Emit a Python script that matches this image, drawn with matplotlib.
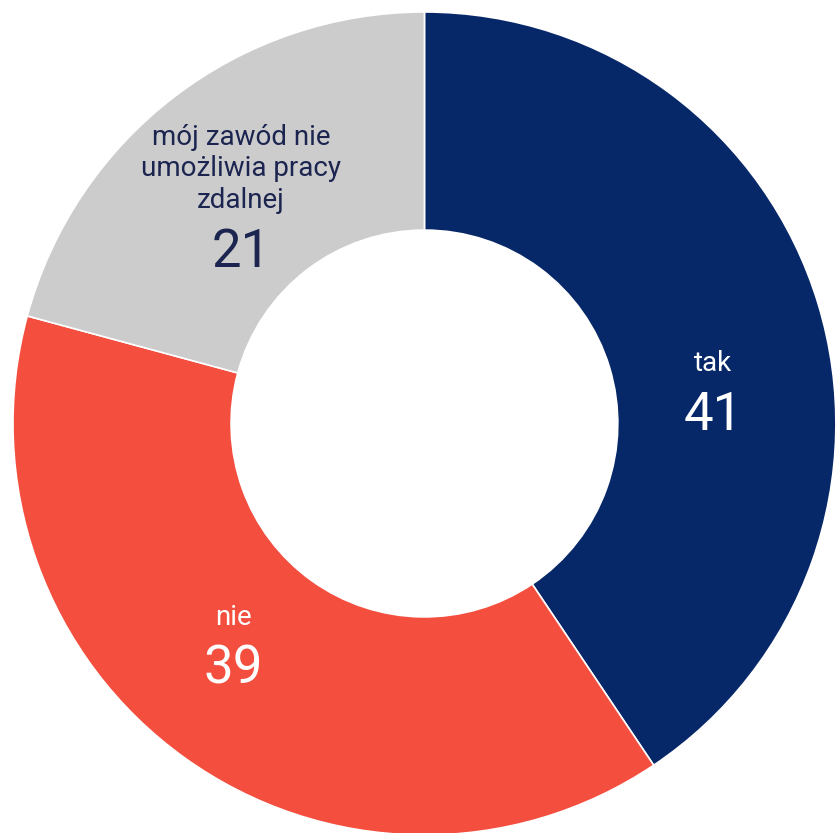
import numpy as np
import matplotlib
matplotlib.use('Agg')
import matplotlib.pyplot as plt

plt.rcParams['font.family'] = ['Roboto', 'DejaVu Sans']

# Data
categories = ['tak', 'nie', 'mój zawód nie\numożliwia pracy\nzdalnej']
values = [41, 39, 21]
colors = ['#072868', '#F44E3F', '#CCCCCC']
text_colors = ['white', 'white', '#1B2550']

# label anchors (baseline of the number), in data coords of the unit circle
label_pos = [(0.701, -0.016), (-0.465, -0.633), (-0.446, 0.380)]

fig = plt.figure(figsize=(8.38, 8.33), dpi=100)
ax = fig.add_axes([0.0155, -0.0024, 0.982, 0.988])

wedges, _ = ax.pie(values, colors=colors, startangle=90, counterclock=False,
                   radius=1.0, wedgeprops=dict(width=0.53, edgecolor='white', linewidth=1.2))

for (x, y), name, val, tc in zip(label_pos, categories, values, text_colors):
    ax.text(x, y, str(val), ha='center', va='baseline', fontsize=38, color=tc)
    ax.annotate(name, xy=(x, y), xytext=(0, 38.5), textcoords='offset points',
                ha='center', va='bottom', fontsize=20, color=tc,
                linespacing=1.2, multialignment='center')

ax.set_xlim(-1, 1)
ax.set_ylim(-1, 1)
ax.set_aspect('auto')
ax.axis('off')

fig.savefig('out.png', dpi=100)
